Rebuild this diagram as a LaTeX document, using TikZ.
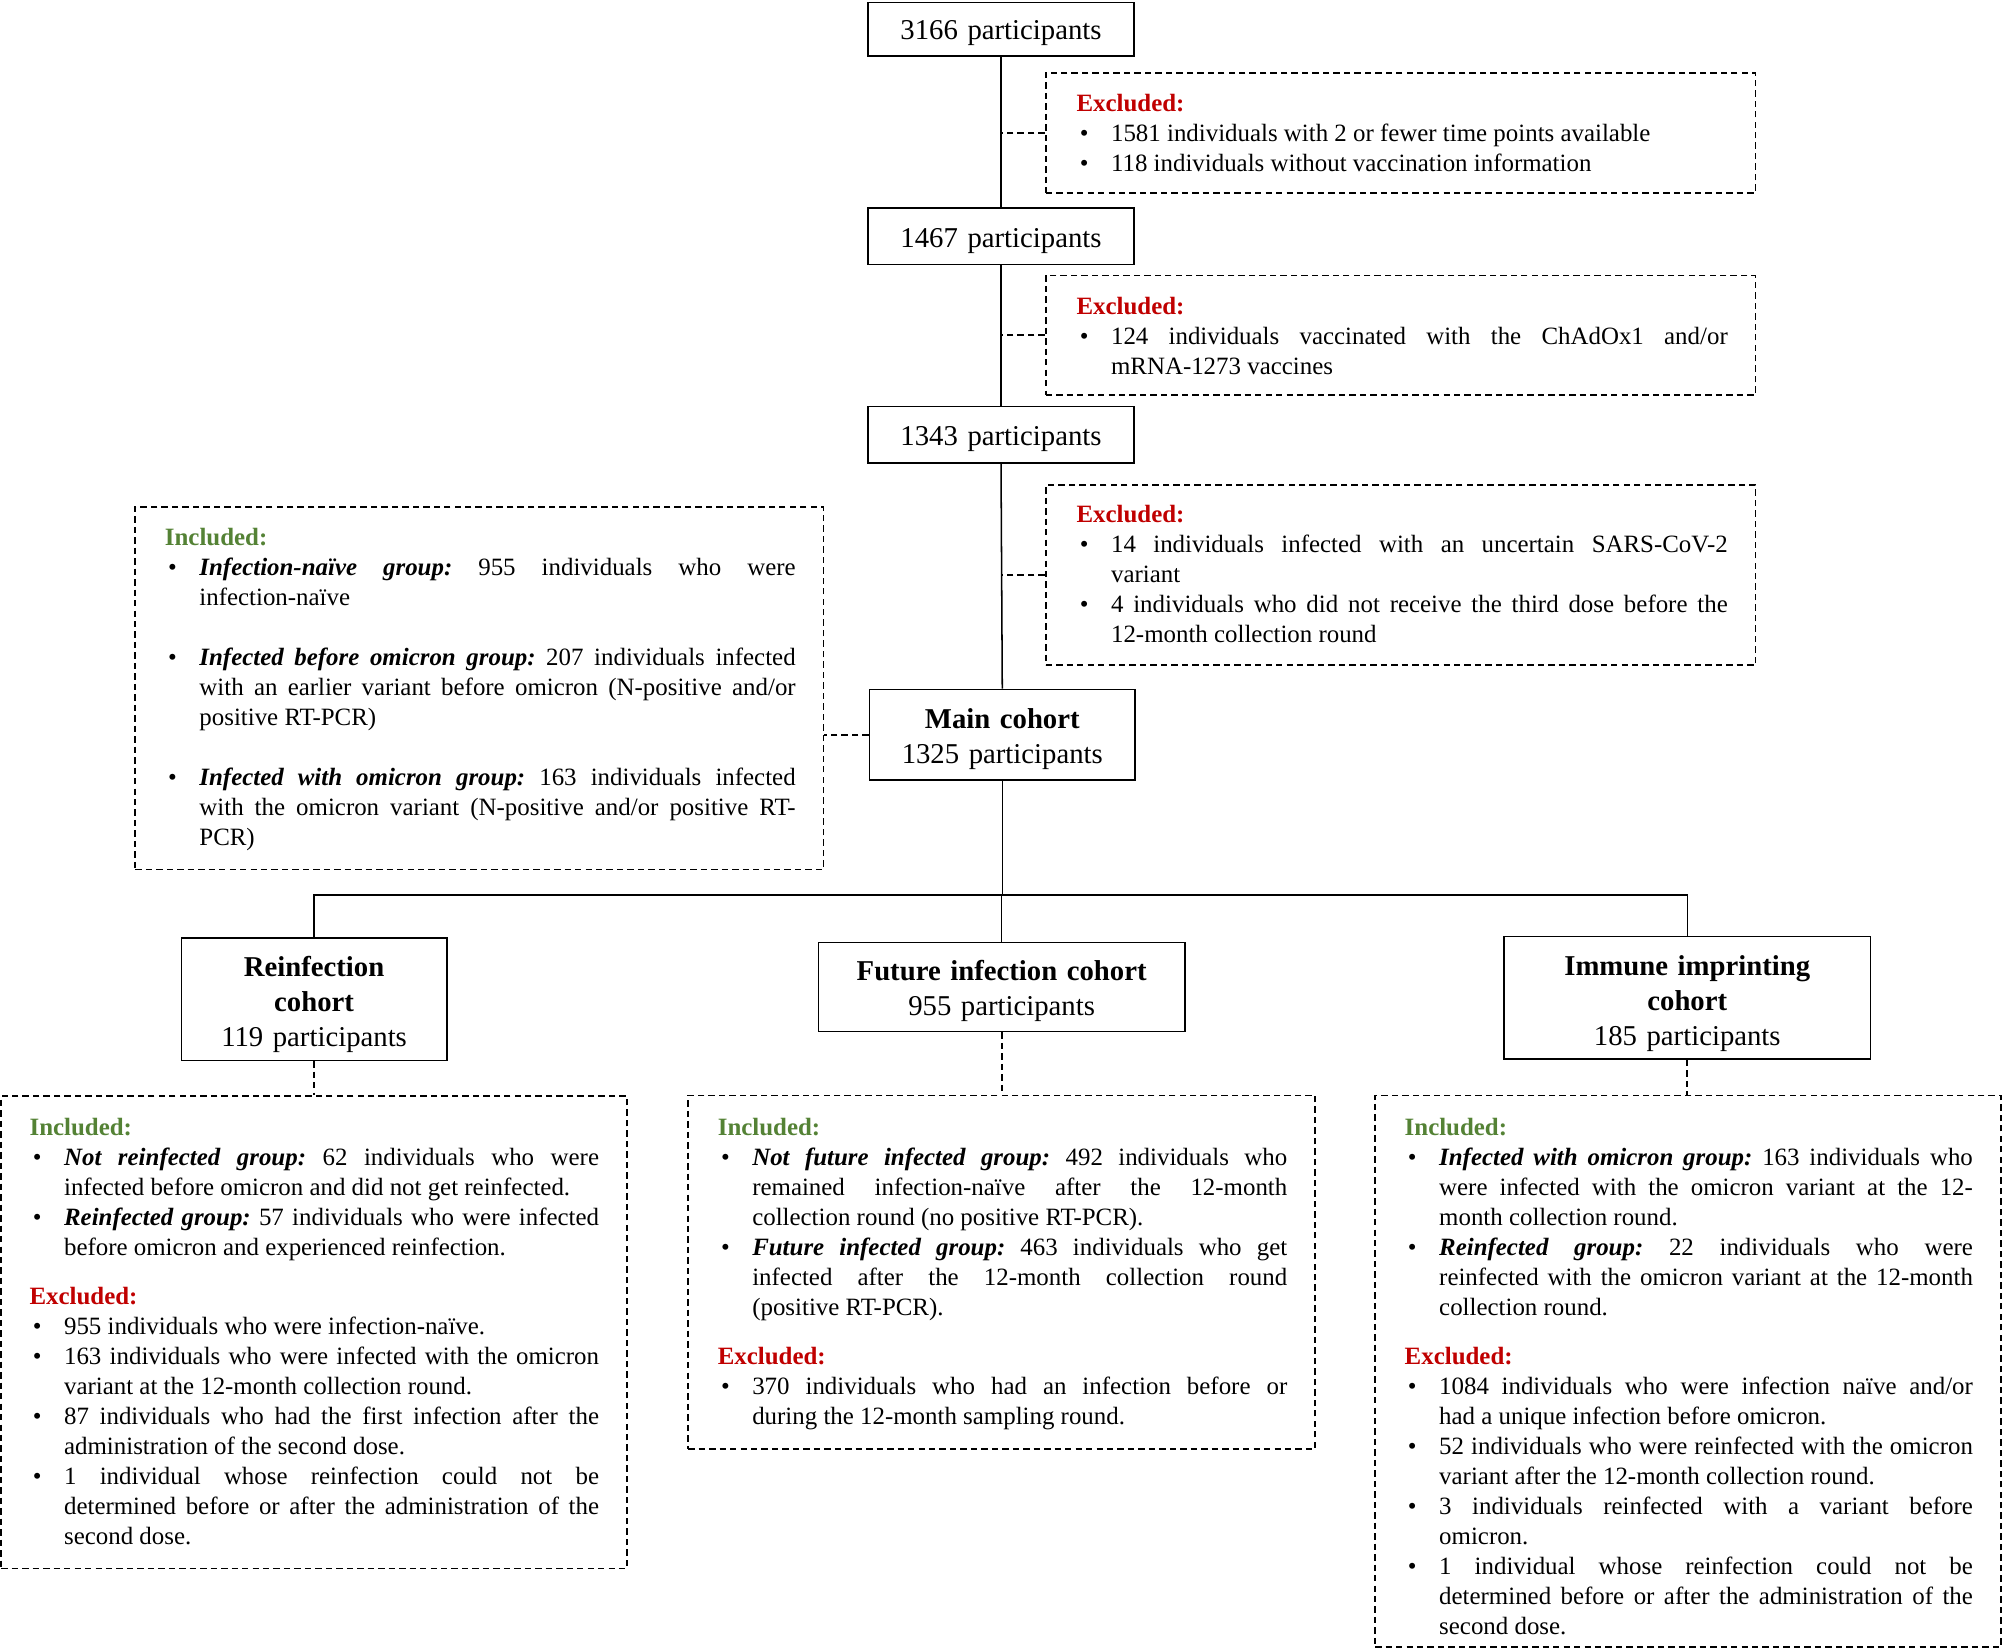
\documentclass[tikz,border=0pt]{standalone}
\usepackage{fontspec}
\setmainfont{Liberation Serif}
\definecolor{incgreen}{HTML}{548235}
\definecolor{excred}{HTML}{C00000}
\newcommand{\tfont}{\fontsize{22.5}{27.5}\selectfont}
\newcommand{\bfont}{\fontsize{19.5}{23.5}\selectfont\frenchspacing\tolerance=10000\hbadness=10000\hyphenpenalty=10000\exhyphenpenalty=10000\parskip=0pt}
\newcommand{\bul}[1]{\par\noindent\hangindent=27pt\hangafter=1\makebox[27pt][l]{\hspace{2.5pt}•}#1}
\newcommand{\inc}{{\bfseries\color{incgreen}Included:}}
\newcommand{\exc}{{\bfseries\color{excred}Excluded:}}
\newcommand{\grp}[1]{\textbf{\textit{#1}}}
\tikzset{
  sbox/.style={draw, line width=1.2pt, inner sep=0pt},
  dbox/.style={draw, line width=1.4pt, dash pattern=on 5pt off 3.2pt, inner sep=0pt},
  dline/.style={line width=1.4pt, dash pattern=on 5pt off 3.2pt},
  sline/.style={line width=1.2pt},
  ttl/.style={anchor=base, inner sep=0pt, align=center, text width=200pt, font=\tfont},
  txt/.style={anchor=base west, inner sep=0pt, align=justify, font=\bfont},
}
\begin{document}
\begin{tikzpicture}[x=1pt,y=-1pt]
\useasboundingbox[fill=white] (0,0) rectangle (1568,1291.5);

% main flow boxes
\node[sbox, minimum width=208pt, minimum height=42pt] (b1) at (784,23) {};
\node[ttl] (b1t) at (784,31.3) {3166 participants};
\node[sbox, minimum width=208pt, minimum height=44pt] (b2) at (784,185) {};
\node[ttl] (b2t) at (784,193.5) {1467 participants};
\node[sbox, minimum width=208pt, minimum height=44pt] (b3) at (784,340.5) {};
\node[ttl] (b3t) at (784,349) {1343 participants};
\node[sbox, minimum width=208pt, minimum height=71pt] (main) at (785,575.5) {};
\node[ttl] (maint) at (785,570.5) {\textbf{Main cohort}\\1325 participants};

\node[sbox, minimum width=208pt, minimum height=96pt] (reinf) at (246,782.5) {};
\node[ttl] (reinft) at (246,765) {\textbf{Reinfection}\\\textbf{cohort}\\119 participants};
\node[sbox, minimum width=287pt, minimum height=70pt] (future) at (784.5,773) {};
\node[ttl, text width=280pt] (futuret) at (784.5,768) {\textbf{Future infection cohort}\\955 participants};
\node[sbox, minimum width=287pt, minimum height=96pt] (immune) at (1321.5,781.5) {};
\node[ttl, text width=280pt] (immunet) at (1321.5,764) {\textbf{Immune imprinting}\\\textbf{cohort}\\185 participants};

% dashed boxes
\node[dbox, minimum width=556pt, minimum height=94pt] (ex1) at (1097,104) {};
\node[txt, text width=510pt] (ex1t) at (843,87) {\exc
\bul{1581 individuals with 2 or fewer time points available}
\bul{118 individuals without vaccination information}\par};

\node[dbox, minimum width=556pt, minimum height=93.5pt] (ex2) at (1097,262.5) {};
\node[txt, text width=510pt] (ex2t) at (843,246) {\exc
\bul{124 individuals vaccinated with the ChAdOx1 and/or \linebreak mRNA-1273 vaccines}\par};

\node[dbox, minimum width=556pt, minimum height=141pt] (ex3) at (1097,450.5) {};
\node[txt, text width=510pt] (ex3t) at (843,409) {\exc
\bul{14 individuals infected with an uncertain SARS-CoV-2 \linebreak variant}
\bul{4 individuals who did not receive the third dose before the \linebreak 12-month collection round}\par};

\node[dbox, minimum width=539pt, minimum height=284pt] (incT) at (375.5,539) {};
\node[txt, text width=494pt] (incTt) at (129,427) {\inc
\bul{\grp{Infection-naïve group:} 955 individuals who were \linebreak infection-naïve}
\par\vspace{23.5pt}
\bul{\grp{Infected before omicron group:} 207 individuals infected \linebreak with an earlier variant before omicron (N-positive and/or \linebreak positive RT-PCR)}
\par\vspace{23.5pt}
\bul{\grp{Infected with omicron group:} 163 individuals infected \linebreak with the omicron variant (N-positive and/or positive RT-\linebreak PCR)}\par};

\node[dbox, minimum width=490pt, minimum height=370pt] (lowL) at (246,1043.5) {};
\node[txt, text width=446pt] (lowLt) at (23,889) {\inc
\bul{\grp{Not reinfected group:} 62 individuals who were \linebreak infected before omicron and did not get reinfected.}
\bul{\grp{Reinfected group:} 57 individuals who were infected \linebreak before omicron and experienced reinfection.}
\par\vspace{15.5pt}\noindent\exc
\bul{955 individuals who were infection-naïve.}
\bul{163 individuals who were infected with the omicron \linebreak variant at the 12-month collection round.}
\bul{87 individuals who had the first infection after the \linebreak administration of the second dose.}
\bul{1 individual whose reinfection could not be \linebreak determined before or after the administration of the \linebreak second dose.}\par};

\node[dbox, minimum width=491pt, minimum height=277pt] (lowM) at (784.5,996.5) {};
\node[txt, text width=446pt] (lowMt) at (562,889) {\inc
\bul{\grp{Not future infected group:} 492 individuals who \linebreak remained infection-naïve after the 12-month \linebreak collection round (no positive RT-PCR).}
\bul{\grp{Future infected group:} 463 individuals who get \linebreak infected after the 12-month collection round \linebreak (positive RT-PCR).}
\par\vspace{15.5pt}\noindent\exc
\bul{370 individuals who had an infection before or \linebreak during the 12-month sampling round.}\par};

\node[dbox, minimum width=490pt, minimum height=432pt] (lowR) at (1322,1074) {};
\node[txt, text width=445pt] (lowRt) at (1100,889) {\inc
\bul{\grp{Infected with omicron group:} 163 individuals who \linebreak were infected with the omicron variant at the 12-\linebreak month collection round.}
\bul{\grp{Reinfected group:} 22 individuals who were \linebreak reinfected with the omicron variant at the 12-month \linebreak collection round.}
\par\vspace{15.5pt}\noindent\exc
\bul{1084 individuals who were infection naïve and/or \linebreak had a unique infection before omicron.}
\bul{52 individuals who were reinfected with the omicron \linebreak variant after the 12-month collection round.}
\bul{3 individuals reinfected with a variant before \linebreak omicron.}
\bul{1 individual whose reinfection could not be \linebreak determined before or after the administration of the \linebreak second dose.}\par};

% solid connectors
\draw[sline] (b1.south) -- (b2.north);
\draw[sline] (b2.south) -- (b3.north);
\draw[sline] (b3.south) -- (main.north);
\coordinate (bus) at (785,701);
\draw[sline] (main.south) -- (bus);
\draw[sline] (reinf.north) |- (bus) -| (immune.north);
\draw[sline] (future.north |- bus) -- (future.north);

% dashed connectors
\draw[dline] (ex1.west) -- (ex1.west -| b1.south);
\draw[dline] (ex2.west) -- (ex2.west -| b2.south);
\draw[dline] (ex3.west) -- (ex3.west -| b3.south);
\draw[dline] (main.west) -- (main.west -| incT.east);
\draw[dline] (reinf.south) -- (reinf.south |- lowL.north);
\draw[dline] (future.south) -- (future.south |- lowM.north);
\draw[dline] (immune.south) -- (immune.south |- lowR.north);
\end{tikzpicture}
\end{document}
